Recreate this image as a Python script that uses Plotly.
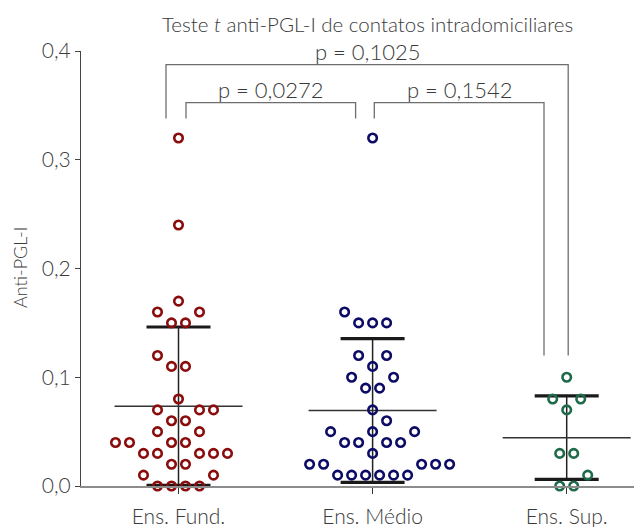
import numpy as np
import plotly.graph_objects as go

# ---------------- data ----------------
categories = ["Ens. Fund.", "Ens. Médio", "Ens. Sup."]
fund_values = [0.32, 0.24, 0.17, 0.16, 0.16, 0.15, 0.15, 0.12, 0.11, 0.11,
               0.08, 0.07, 0.07, 0.07, 0.06, 0.06, 0.05, 0.05,
               0.04, 0.04, 0.04, 0.04, 0.03, 0.03, 0.03, 0.03, 0.03,
               0.02, 0.02, 0.01, 0.01, 0.00, 0.00, 0.00, 0.00]
medio_values = [0.32, 0.16, 0.15, 0.15, 0.15, 0.12, 0.12, 0.11, 0.10, 0.10,
                0.09, 0.09, 0.07, 0.06, 0.05, 0.05, 0.05,
                0.04, 0.04, 0.04, 0.04, 0.03,
                0.02, 0.02, 0.02, 0.02, 0.02,
                0.01, 0.01, 0.01, 0.01, 0.01, 0.01]
sup_values = [0.10, 0.08, 0.08, 0.07, 0.03, 0.03, 0.01, 0.00, 0.00]
group_values = [fund_values, medio_values, sup_values]
group_colors = ["#8a0c0c", "#0c0c66", "#1f6a4a"]

y_tick_vals = [0.0, 0.1, 0.2, 0.3, 0.4]
y_tick_text = ["0,0", "0,1", "0,2", "0,3", "0,4"]
y_title = "Anti-PGL-I"
title_text = "Teste <i>t</i> anti-PGL-I de contatos intradomiciliares"
# comparisons: (group a, group b, label)
comparisons = [(0, 1, "p = 0,0272"), (1, 2, "p = 0,1542"), (0, 2, "p = 0,1025")]

# ---------------- layout geometry ----------------
W, H = 634, 527
ML, MR, MT, MB = 81, 0, 51, 41
X_RANGE = [-0.5023, 2.3467]
Y_RANGE = [0.0, 0.4]
plot_w = W - ML - MR
plot_h = H - MT - MB
px_per_x = plot_w / (X_RANGE[1] - X_RANGE[0])
px_per_y = plot_h / (Y_RANGE[1] - Y_RANGE[0])
UNIT_PX = 14.0        # horizontal spacing of swarm points
COLLIDE_PX = 13.5     # minimal distance between point centres

FONT = "Lato, 'Open Sans', sans-serif"
TXT = "#3a3a3a"
WEIGHT = 300


def swarm_offsets(values):
    vals = np.round(np.asarray(values, float), 6)
    rows = sorted(set(vals.tolist()))
    offsets = np.zeros(len(vals))
    placed = []
    for r_i, v in enumerate(rows):
        idx = [i for i, x in enumerate(vals) if x == v]
        n = len(idx)
        ypx = v * px_per_y
        sgn = 1 if r_i % 2 == 0 else -1
        best = None
        for fam in (0.0, 0.5):
            cands = []
            for k in range(-10, 11):
                pos = (k + fam) * UNIT_PX
                ok = True
                for (px, py) in placed:
                    if np.hypot(pos - px, ypx - py) < COLLIDE_PX:
                        ok = False
                        break
                if ok:
                    cands.append(pos)
            cands.sort(key=lambda p: (abs(p), sgn * p))
            chosen = cands[:n]
            score = sum(abs(c) for c in chosen) + 0.5 * abs(sum(chosen))
            if best is None or score < best[0] - 1e-9:
                best = (score, chosen)
        chosen = sorted(best[1])
        for j, i in enumerate(idx):
            offsets[i] = chosen[j] / px_per_x
            placed.append((chosen[j], ypx))
    return offsets


fig = go.Figure()

MEAN_HALF = 64 / px_per_x
CAP_HALF = 32 / px_per_x

for g, vals in enumerate(group_values):
    arr = np.asarray(vals, float)
    mean = arr.mean()
    sd = arr.std(ddof=1)
    fig.add_trace(go.Scatter(x=[g, g], y=[mean - sd, mean + sd], mode="lines",
                             line=dict(color="#222222", width=1.5),
                             hoverinfo="skip", showlegend=False, cliponaxis=False))
    for yv in (mean - sd, mean + sd):
        fig.add_trace(go.Scatter(x=[g - CAP_HALF, g + CAP_HALF], y=[yv, yv], mode="lines",
                                 line=dict(color="#1a1a1a", width=3.2),
                                 hoverinfo="skip", showlegend=False, cliponaxis=False))
    fig.add_trace(go.Scatter(x=[g - MEAN_HALF, g + MEAN_HALF], y=[mean, mean], mode="lines",
                             line=dict(color="#333333", width=1.5),
                             hoverinfo="skip", showlegend=False, cliponaxis=False))

for g, vals in enumerate(group_values):
    offs = swarm_offsets(vals)
    fig.add_trace(go.Scatter(x=g + offs, y=vals, mode="markers",
                             marker=dict(symbol="circle-open", size=8.5, color=group_colors[g],
                                         line=dict(width=2.6, color=group_colors[g])),
                             name=categories[g], showlegend=False, cliponaxis=False))

bracket_style = dict(color="#6e6e6e", width=1.3)
brackets = {
    (0, 2): dict(x0=0 - 12.5 / px_per_x, x1=2 + 1.5 / px_per_x, top=0.3875, l_bot=0.338, r_bot=0.120),
    (0, 1): dict(x0=0 + 7.5 / px_per_x, x1=1 - 17 / px_per_x, top=0.3525, l_bot=0.338, r_bot=0.338),
    (1, 2): dict(x0=1 + 1.7 / px_per_x, x1=2 - 22.7 / px_per_x, top=0.3525, l_bot=0.338, r_bot=0.120),
}
for a, b, label in comparisons:
    bk = brackets[(a, b)]
    fig.add_shape(type="path",
                  path=f"M {bk['x0']},{bk['l_bot']} L {bk['x0']},{bk['top']} L {bk['x1']},{bk['top']} L {bk['x1']},{bk['r_bot']}",
                  xref="x", yref="y", line=bracket_style)
    fig.add_annotation(x=(bk['x0'] + bk['x1']) / 2, y=bk['top'], xref="x", yref="y",
                       text=label, showarrow=False, yanchor="bottom", borderpad=0, yshift=-1,
                       font=dict(family=FONT, size=22, color=TXT, weight=WEIGHT))

fig.add_annotation(x=(brackets[(0, 2)]['x0'] + brackets[(0, 2)]['x1']) / 2, y=1 + (MT - 24) / plot_h,
                   xref="x", yref="paper", text=title_text, showarrow=False, yanchor="middle",
                   font=dict(family=FONT, size=20.5, color=TXT, weight=WEIGHT))

fig.add_annotation(x=-(ML - 20) / plot_w, y=0.5 + (MT + plot_h / 2 - 268) / plot_h,
                   xref="paper", yref="paper", text=y_title, textangle=-90, showarrow=False,
                   xanchor="center", yanchor="middle",
                   font=dict(family=FONT, size=18, color=TXT, weight=WEIGHT))

fig.update_layout(
    width=W, height=H,
    margin=dict(l=ML, r=MR, t=MT, b=MB),
    paper_bgcolor="white", plot_bgcolor="white",
    font=dict(family=FONT, color=TXT),
    xaxis=dict(range=X_RANGE, tickvals=[0, 1, 2], ticktext=categories,
               showgrid=False, zeroline=False, showline=True, linecolor="#8c8c8c", linewidth=1.5,
               ticks="outside", ticklen=6, tickcolor="#333333", tickwidth=1.3,
               ticklabelstandoff=5,
               tickfont=dict(family=FONT, size=21, color=TXT, weight=WEIGHT)),
    yaxis=dict(range=Y_RANGE, tickvals=y_tick_vals, ticktext=y_tick_text,
               showgrid=False, zeroline=False, showline=True, linecolor="#444444", linewidth=1.2,
               ticks="outside", ticklen=5, tickcolor="#444444", tickwidth=1.2,
               tickfont=dict(family=FONT, size=21, color=TXT, weight=WEIGHT)),
)

fig.write_html("out.html", config={"displayModeBar": False},
               post_script="document.body.style.margin='0';document.body.style.overflow='hidden';")
